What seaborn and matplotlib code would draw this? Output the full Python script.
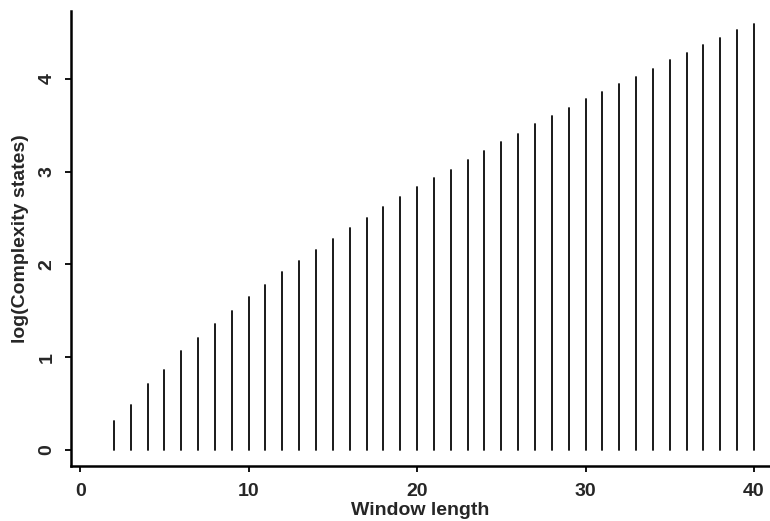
import matplotlib
matplotlib.use("Agg")
import matplotlib.pyplot as plt
import seaborn as sns
import pandas as pd

# Window lengths and log number of complexity states
window_length = list(range(1, 41))
log_states = [0.00, 0.31, 0.48, 0.71, 0.86, 1.07, 1.21, 1.36, 1.50, 1.65,
              1.78, 1.92, 2.04, 2.16, 2.27, 2.39, 2.50, 2.62, 2.73, 2.83,
              2.93, 3.02, 3.13, 3.22, 3.32, 3.41, 3.51, 3.60, 3.69, 3.78,
              3.86, 3.94, 4.02, 4.11, 4.20, 4.28, 4.36, 4.44, 4.52, 4.59]

x_ticks = [0, 10, 20, 30, 40]
y_ticks = [0, 1, 2, 3, 4]

# Each window length becomes a vertical segment from 0 up to its value
rows = []
for w, v in zip(window_length, log_states):
    rows.append({"w": w, "v": 0.0, "seg": w})
    rows.append({"w": w, "v": v, "seg": w})
df = pd.DataFrame(rows)

sns.set_style("ticks")
plt.rcParams["font.family"] = ["Liberation Sans", "DejaVu Sans"]

fig = plt.figure(figsize=(7.7, 5.21), dpi=100)
ax = fig.add_axes([70.7 / 770, 55 / 521, (770 - 70.7) / 770, 455 / 521])

sns.lineplot(data=df, x="w", y="v", units="seg", estimator=None,
             color="#111111", linewidth=1.35, ax=ax, legend=False,
             solid_capstyle="round")

ax.set_xlim(-0.56, 40.95)
ax.set_ylim(-0.172, 4.73)

ax.set_xticks(x_ticks)
ax.set_yticks(y_ticks)
ax.set_xticklabels([str(t) for t in x_ticks], fontsize=14, fontweight="bold")
ax.set_yticklabels([str(t) for t in y_ticks], fontsize=14, fontweight="bold",
                   rotation=90, va="center")

ax.tick_params(axis="both", direction="out", length=4, width=1.3,
               color="black")
ax.tick_params(axis="x", pad=8)
ax.tick_params(axis="y", pad=7)

for side in ("top", "right"):
    ax.spines[side].set_visible(False)
for side in ("left", "bottom"):
    ax.spines[side].set_linewidth(1.8)
    ax.spines[side].set_color("black")

ax.set_xlabel("Window length", fontsize=14, fontweight="semibold", labelpad=2)
ax.set_ylabel("log(Complexity states)", fontsize=14, fontweight="semibold",
              labelpad=7)

fig.savefig("out.png", dpi=100)
